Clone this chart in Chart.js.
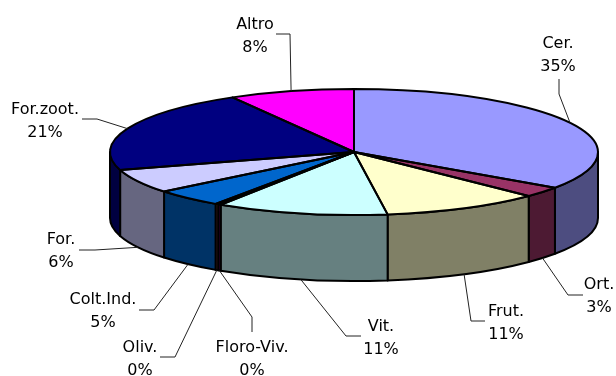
<!DOCTYPE html>
<html>
<head>
<meta charset="utf-8">
<script src="https://cdn.jsdelivr.net/npm/chart.js@4/dist/chart.umd.min.js"></script>
<style>
  html, body {margin: 0; padding: 0; background: #fff;}
  canvas {display: block;}
</style>
</head>
<body>
<canvas id="pie" width="616" height="376"></canvas>
<script>
const categories = ['Cer.', 'Ort.', 'Frut.', 'Vit.', 'Floro-Viv.', 'Oliv.', 'Colt.Ind.', 'For.', 'For.zoot.', 'Altro'];
const shares = [34.6, 2.7, 10.5, 11.4, 0.2, 0.2, 4.6, 6.2, 21.3, 8.3];
const colors = ['#9999ff', '#993366', '#ffffcc', '#ccffff', '#660066', '#ff8080', '#0066cc', '#ccccff', '#000080', '#ff00ff'];

// label centre x, first line y, then the leader elbow and end
const labelSpots = [
  [558, 44, 559, 94, 559, 79],
  [599, 285, 568, 295, 583, 295],
  [506, 312, 471, 321, 485, 321],
  [381, 327, 346, 336, 361, 336],
  [252, 348, 252, 317, 252, 332],
  [140, 348, 175, 357, 160, 357],
  [103, 300, 154, 310, 139, 310],
  [61, 240, 95, 250, 79, 250],
  [45, 110, 97, 119, 82, 119],
  [255, 25, 290, 34, 276, 34]
];

const disc = {x: 354, y: 152, rx: 244, ry: 63, depth: 66};

function darken(hex) {
  const n = parseInt(hex.slice(1), 16);
  const half = v => Math.round(v / 2);
  return `rgb(${half(n >> 16)},${half((n >> 8) & 255)},${half(n & 255)})`;
}

const pie3d = {
  id: 'pie3d',
  beforeDatasetsDraw(chart) {
    const ctx = chart.ctx;
    const arcs = chart.getDatasetMeta(0).data;
    // side wall, only the front half of the disc shows
    arcs.forEach((arc, i) => {
      const a = Math.max(arc.startAngle, 0), b = Math.min(arc.endAngle, Math.PI);
      if (b <= a) return;
      ctx.beginPath();
      ctx.ellipse(disc.x, disc.y, disc.rx, disc.ry, 0, a, b);
      ctx.ellipse(disc.x, disc.y + disc.depth, disc.rx, disc.ry, 0, b, a, true);
      ctx.closePath();
      ctx.fillStyle = darken(colors[i]);
      ctx.fill();
      ctx.strokeStyle = '#000';
      ctx.lineWidth = 2;
      ctx.lineJoin = 'round';
      ctx.stroke();
    });
    // library draws the round pie, squash it onto the disc
    const first = arcs[0];
    ctx.save();
    ctx.translate(disc.x, disc.y);
    ctx.scale(disc.rx / first.outerRadius, disc.ry / first.outerRadius);
    ctx.translate(-first.x, -first.y);
  },
  afterDatasetsDraw(chart) {
    const ctx = chart.ctx;
    ctx.restore();
    const arcs = chart.getDatasetMeta(0).data;
    ctx.strokeStyle = '#000';
    ctx.lineWidth = 2;
    ctx.lineJoin = 'round';
    arcs.forEach(arc => {
      ctx.beginPath();
      ctx.moveTo(disc.x, disc.y);
      ctx.ellipse(disc.x, disc.y, disc.rx, disc.ry, 0, arc.startAngle, arc.endAngle);
      ctx.closePath();
      ctx.stroke();
    });
    const total = shares.reduce((s, v) => s + v, 0);
    ctx.font = '16px "DejaVu Sans"';
    ctx.textAlign = 'center';
    ctx.textBaseline = 'middle';
    arcs.forEach((arc, i) => {
      const [tx, ty, ex, ey, fx, fy] = labelSpots[i];
      const mid = (arc.startAngle + arc.endAngle) / 2;
      const front = Math.sin(mid) > 0;
      const sx = disc.x + disc.rx * Math.cos(mid);
      const sy = disc.y + disc.ry * Math.sin(mid) + (front ? disc.depth : 0);
      ctx.beginPath();
      ctx.moveTo(sx, sy);
      ctx.lineTo(ex, ey);
      ctx.lineTo(fx, fy);
      ctx.strokeStyle = '#222';
      ctx.lineWidth = 1;
      ctx.stroke();
      ctx.fillStyle = '#000';
      ctx.fillText(categories[i], tx, ty);
      ctx.fillText(Math.round(shares[i] / total * 100) + '%', tx, ty + 23);
    });
  }
};

new Chart(document.getElementById('pie'), {
  type: 'pie',
  data: {
    labels: categories,
    datasets: [{data: shares, backgroundColor: colors, borderWidth: 0, clip: false}]
  },
  options: {
    responsive: false,
    animation: false,
    events: [],
    plugins: {legend: {display: false}, tooltip: {enabled: false}}
  },
  plugins: [pie3d]
});
</script>
</body>
</html>
